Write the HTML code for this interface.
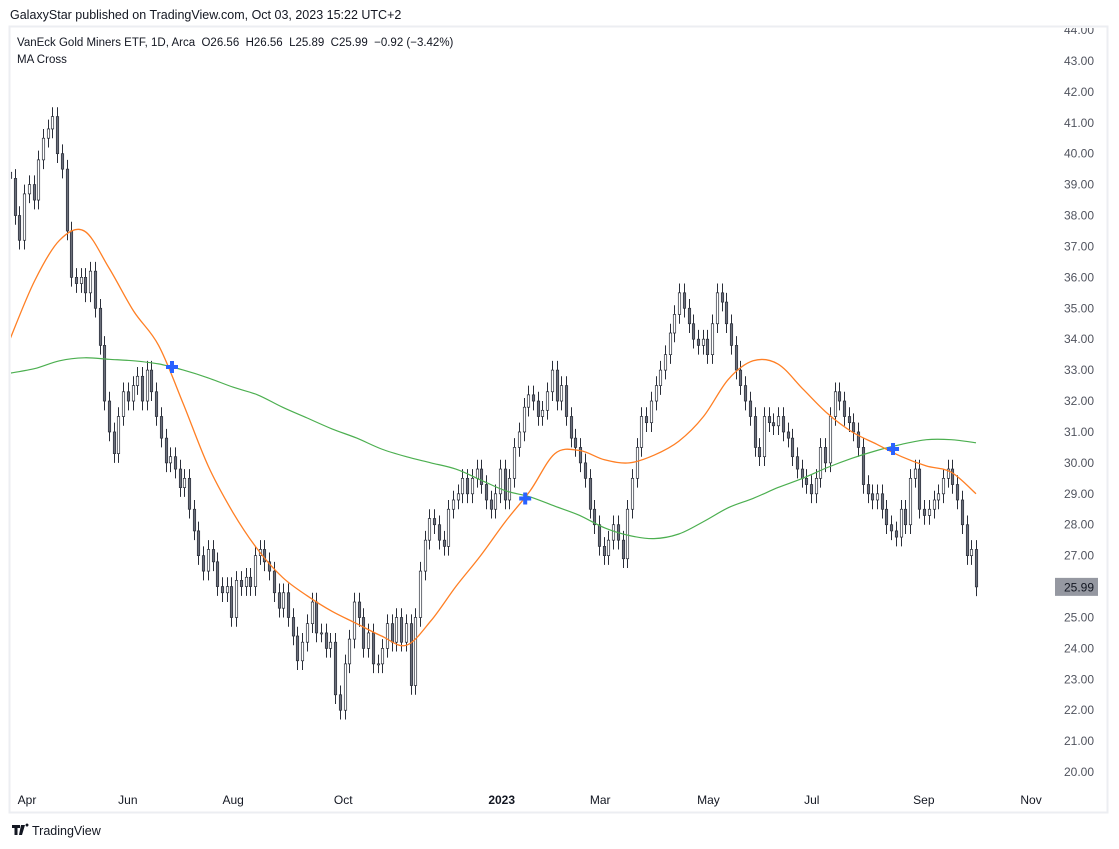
<!DOCTYPE html>
<html><head><meta charset="utf-8"><style>
html,body{margin:0;padding:0;background:#fff;}
svg{display:block;font-family:"Liberation Sans",sans-serif;}
</style></head><body>
<svg id="c" width="1119" height="849" viewBox="0 0 1119 849">
<rect x="0" y="0" width="1119" height="849" fill="#fff"/>
<text x="10" y="19" font-size="12.5" fill="#131722">GalaxyStar published on TradingView.com, Oct 03, 2023 15:22 UTC+2</text>
<rect x="9.5" y="26.5" width="1098" height="786" fill="none" stroke="#eceef2" stroke-width="2"/>
<defs><clipPath id="clipP"><rect x="11" y="28" width="1095" height="783"/></clipPath></defs>
<g id="grid" clip-path="url(#clipP)"></g>
<g id="plot" clip-path="url(#clipP)"></g>
<g id="xax"></g>
<text x="17" y="46" font-size="11.5" fill="#131722" style="white-space:pre">VanEck Gold Miners ETF, 1D, Arca  O26.56  H26.56  L25.89  C25.99  −0.92 (−3.42%)</text>
<text x="17" y="63" font-size="11.5" fill="#131722">MA Cross</text>
<g>
<path d="M12 825h8v3h-2.5v7h-3v-7H12zM21 825h4l-3 10h-3z M25.5 825a1.5 1.5 0 1 1 0 .1z" fill="#131722"/>
<text x="32" y="835" font-size="12.5" fill="#131722">TradingView</text>
</g>
</svg>
<script>
const closes=[39.2,38.0,37.2,38.7,39.0,38.5,39.8,40.5,40.8,41.2,40.0,39.5,37.5,36.0,35.8,36.0,35.5,36.2,35.0,33.8,32.0,31.0,30.3,31.5,32.3,32.0,32.5,32.8,32.0,33.0,32.3,31.5,30.8,30.0,30.2,29.8,29.2,29.5,28.5,27.8,27.0,26.5,27.2,26.8,26.0,25.8,26.0,25.0,26.2,26.0,26.3,26.0,27.0,27.2,26.8,26.5,25.8,25.3,25.8,25.0,24.4,23.6,24.2,24.8,25.5,24.5,24.5,24.0,24.2,22.5,22.0,23.5,24.3,25.5,25.0,24.0,24.5,23.5,23.5,24.0,24.8,24.2,25.0,24.2,24.8,22.8,25.0,26.5,27.5,28.2,28.0,27.5,27.3,28.5,28.8,29.0,29.5,29.0,29.5,29.8,29.3,28.8,28.5,29.0,29.8,28.8,29.5,30.5,31.0,31.8,32.2,32.0,31.5,31.7,32.3,33.0,32.0,32.5,31.5,30.8,30.5,30.0,29.5,28.5,28.0,27.3,27.0,27.5,28.0,27.5,26.9,28.5,29.5,30.5,31.5,31.3,32.0,32.5,33.0,33.5,34.2,34.8,35.5,35.0,34.5,34.0,33.8,34.0,33.5,34.5,35.5,35.2,34.5,33.8,33.0,32.5,32.0,31.5,30.5,30.2,31.5,31.3,31.2,31.5,31.0,30.8,30.2,29.8,29.5,29.3,29.0,29.5,30.5,30.0,31.5,32.3,32.0,31.5,31.3,31.0,30.5,29.3,29.0,28.8,29.0,28.5,28.0,27.8,27.6,28.5,28.0,29.5,29.8,28.5,28.3,28.5,28.8,29.0,29.5,29.8,29.3,28.8,28.0,27.0,27.2,25.99];
const fastMA=[34.0,35.9,37.2,37.5,36.3,34.9,33.8,31.9,29.9,28.4,27.2,26.3,25.7,25.2,24.8,24.4,24.1,24.9,26.0,27.0,28.1,29.1,30.3,30.4,30.1,30.0,30.25,30.7,31.5,32.7,33.3,33.2,32.4,31.6,31.0,30.6,30.2,29.9,29.7,29.0];
const slowMA=[32.9,33.05,33.3,33.4,33.35,33.3,33.2,33.0,32.75,32.45,32.2,31.8,31.45,31.1,30.8,30.45,30.2,30.0,29.8,29.45,29.1,28.9,28.6,28.3,27.9,27.65,27.55,27.7,28.1,28.55,28.85,29.2,29.5,29.85,30.15,30.4,30.6,30.75,30.75,30.65];
const crossK=[6.54,20.8,35.65];
const crossPrice=[33.1,28.85,30.45];
const priceTicks=[44,43,42,41,40,39,38,37,36,35,34,33,32,31,30,29,28,27,26,25,24,23,22,21,20];
const monthLabels=["Apr","Jun","Aug","Oct","2023","Mar","May","Jul","Sep","Nov"];
const monthPos=[0.0176,0.122,0.231,0.345,0.509,0.611,0.723,0.830,0.946,1.057];
const lastPrice=25.99;

const NS="http://www.w3.org/2000/svg";
const X0=10,X1=976,Y44=30,PXU=30.92;
function y(p){return Y44+(44-p)*PXU;}
function xi(i,n){return X0+i*(X1-X0)/(n-1);}
function mk(t,a,parent){const e=document.createElementNS(NS,t);for(const k in a)e.setAttribute(k,a[k]);parent.appendChild(e);return e;}
const plot=document.getElementById('plot'),grid=document.getElementById('grid'),xax=document.getElementById('xax'),svg=document.getElementById('c');

priceTicks.forEach(p=>{
  const t=mk('text',{x:1094,y:y(p)+4,'font-size':12,fill:'#50535e','text-anchor':'end'},grid);
  
  
  t.textContent=p.toFixed(2);
});
monthLabels.forEach((m,i)=>{
  const t=mk('text',{x:X0+monthPos[i]*(X1-X0),y:804,'font-size':12,fill:'#131722','font-weight':m==='2023'?'bold':'normal','text-anchor':'middle'},xax);
  
  
  t.textContent=m;
});

const n=closes.length;
for(let i=0;i<n;i++){
  const o=i>0?closes[i-1]:closes[i]+0.2,c=closes[i];
  const x=Math.round(xi(i,n))+0.5;
  const hi=Math.max(o,c)+0.3,lo=Math.min(o,c)-0.3;
  const g=mk('g',{},plot);
  
  
  mk('line',{x1:x,x2:x,y1:y(hi),y2:y(lo),stroke:'#2a2e39','stroke-width':1},g);
  const top=y(Math.max(o,c)),bot=y(Math.min(o,c));
  mk('rect',{x:x-1.2,y:top,width:2.4,height:Math.max(1,bot-top),fill:c<o?'#6b6f7a':'#fff',stroke:'#2a2e39','stroke-width':0.7},g);
}
function maPath(arr){
  const pts=arr.map((v,k)=>[xi(k,arr.length),y(v)]);
  let d='M'+pts[0][0].toFixed(1)+' '+pts[0][1].toFixed(1);
  for(let i=0;i<pts.length-1;i++){
    const p0=pts[Math.max(0,i-1)],p1=pts[i],p2=pts[i+1],p3=pts[Math.min(pts.length-1,i+2)];
    const c1=[p1[0]+(p2[0]-p0[0])/6,p1[1]+(p2[1]-p0[1])/6],c2=[p2[0]-(p3[0]-p1[0])/6,p2[1]-(p3[1]-p1[1])/6];
    d+=` C${c1[0].toFixed(1)} ${c1[1].toFixed(1)} ${c2[0].toFixed(1)} ${c2[1].toFixed(1)} ${p2[0].toFixed(1)} ${p2[1].toFixed(1)}`;
  }
  return d;
}
const s=mk('path',{d:maPath(slowMA),fill:'none',stroke:'#4caf50','stroke-width':1.2},plot);


const f=mk('path',{d:maPath(fastMA),fill:'none',stroke:'#ff7f24','stroke-width':1.3},plot);


crossK.forEach((k,i)=>{
  const cx=xi(k,fastMA.length),cy=y(crossPrice[i]);
  const p=mk('path',{d:`M${cx-6} ${cy-2}h4v-4h4v4h4v4h-4v4h-4v-4h-4z`,fill:'#2962ff'},plot);
  
  
});
const tag=mk('g',{},svg);


mk('rect',{x:1055,y:y(lastPrice)-9,width:43,height:18,fill:'#9598a1'},tag);
const tt=mk('text',{x:1094,y:y(lastPrice)+4.5,'font-size':12,fill:'#131722','text-anchor':'end'},tag);
tt.textContent=lastPrice.toFixed(2);
</script>
</body></html>
